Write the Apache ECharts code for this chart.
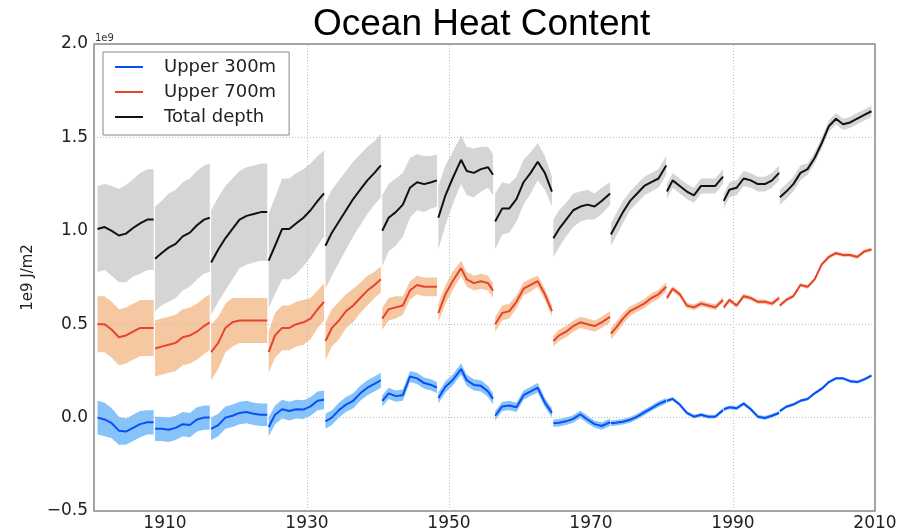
<!DOCTYPE html>
<html><head><meta charset="utf-8">
<script src="https://cdn.jsdelivr.net/npm/echarts@6/dist/echarts.min.js"></script>
<style>html,body{margin:0;padding:0;background:#fff}#c{width:907px;height:532px}</style>
</head><body><div id="c"></div>
<script>
// Sample years; each segment ends with a gap marker (value null in the series arrays)
const years = [
 1900.5,1901.5,1902.5,1903.5,1904.5,1905.5,1906.5,1907.5,1908.4, 1908.5,
 1908.6,1909.5,1910.5,1911.5,1912.5,1913.5,1914.5,1915.5,1916.3, 1916.4,
 1916.5,1917.5,1918.5,1919.5,1920.5,1921.5,1922.5,1923.5,1924.4, 1924.5,
 1924.6,1925.5,1926.5,1927.5,1928.5,1929.5,1930.5,1931.5,1932.4, 1932.5,
 1932.6,1933.5,1934.5,1935.5,1936.5,1937.5,1938.5,1939.5,1940.4, 1940.5,
 1940.6,1941.5,1942.5,1943.5,1944.5,1945.5,1946.5,1947.5,1948.3, 1948.4,
 1948.5,1949.5,1950.5,1951.7,1952.5,1953.5,1954.5,1955.5,1956.2, 1956.35,
 1956.5,1957.5,1958.5,1959.5,1960.5,1961.5,1962.5,1963.5,1964.5, 1964.6,
 1964.7,1965.5,1966.5,1967.5,1968.5,1969.5,1970.5,1971.5,1972.7, 1972.75,
 1972.8,1973.5,1974.5,1975.5,1976.5,1977.5,1978.5,1979.5,1980.6, 1980.65,
 1980.7,1981.5,1982.5,1983.5,1984.5,1985.5,1986.5,1987.5,1988.6, 1988.65,
 1988.7,1989.5,1990.5,1991.5,1992.5,1993.5,1994.5,1995.5,1996.5, 1996.55,
 1996.6,1997.5,1998.5,1999.5,2000.5,2001.5,2002.5,2003.5,2004.5,2005.5,2006.5,2007.5,2008.5,2009.5
];

// Total depth (1e9 J/m2) and its half-width uncertainty
const totalDepth = [
 1.01,1.02,1.00,0.975,0.985,1.015,1.04,1.06,1.06, null,
 0.85,0.88,0.91,0.93,0.97,0.99,1.03,1.06,1.07, null,
 0.83,0.90,0.96,1.01,1.06,1.08,1.09,1.10,1.10, null,
 0.84,0.92,1.01,1.01,1.04,1.07,1.11,1.16,1.20, null,
 0.92,0.99,1.05,1.11,1.17,1.22,1.27,1.31,1.35, null,
 1.00,1.07,1.10,1.14,1.23,1.26,1.25,1.26,1.27, null,
 1.07,1.19,1.28,1.38,1.32,1.31,1.33,1.34,1.30, null,
 1.05,1.12,1.12,1.17,1.26,1.31,1.37,1.31,1.21, null,
 0.96,1.01,1.06,1.11,1.13,1.14,1.13,1.16,1.20, null,
 0.98,1.03,1.10,1.16,1.20,1.24,1.26,1.28,1.35, null,
 1.21,1.27,1.24,1.21,1.19,1.24,1.24,1.24,1.29, null,
 1.16,1.22,1.23,1.28,1.27,1.25,1.25,1.27,1.31, null,
 1.18,1.21,1.25,1.31,1.33,1.39,1.47,1.56,1.60,1.57,1.58,1.60,1.62,1.64
];
const totalDepthErr = [
 0.23,0.23,0.24,0.25,0.26,0.26,0.27,0.27,0.27, null,
 0.28,0.28,0.29,0.29,0.29,0.29,0.29,0.29,0.29, null,
 0.28,0.28,0.28,0.27,0.26,0.26,0.26,0.26,0.26, null,
 0.25,0.26,0.27,0.27,0.27,0.26,0.25,0.24,0.23, null,
 0.23,0.23,0.22,0.21,0.20,0.19,0.18,0.17,0.17, null,
 0.19,0.18,0.18,0.17,0.16,0.15,0.15,0.14,0.14, null,
 0.17,0.16,0.14,0.13,0.13,0.13,0.12,0.11,0.11, null,
 0.15,0.14,0.13,0.12,0.12,0.11,0.10,0.09,0.08, null,
 0.10,0.10,0.09,0.09,0.08,0.08,0.07,0.07,0.06, null,
 0.06,0.06,0.06,0.05,0.05,0.05,0.05,0.05,0.05, null,
 0.04,0.04,0.04,0.04,0.04,0.04,0.04,0.04,0.04, null,
 0.04,0.04,0.04,0.04,0.04,0.04,0.04,0.04,0.04, null,
 0.04,0.04,0.04,0.04,0.03,0.03,0.03,0.03,0.03,0.03,0.03,0.03,0.03,0.03
];

// Upper 700m
const upper700 = [
 0.50,0.50,0.47,0.43,0.44,0.46,0.48,0.48,0.48, null,
 0.37,0.38,0.39,0.40,0.43,0.44,0.46,0.49,0.51, null,
 0.35,0.40,0.48,0.51,0.52,0.52,0.52,0.52,0.52, null,
 0.35,0.44,0.48,0.48,0.50,0.51,0.53,0.58,0.62, null,
 0.41,0.48,0.52,0.57,0.60,0.64,0.68,0.71,0.74, null,
 0.53,0.58,0.59,0.60,0.68,0.71,0.70,0.70,0.70, null,
 0.56,0.66,0.73,0.80,0.74,0.72,0.73,0.72,0.68, null,
 0.50,0.56,0.57,0.62,0.69,0.71,0.73,0.66,0.57, null,
 0.41,0.44,0.46,0.49,0.51,0.50,0.49,0.51,0.54, null,
 0.45,0.48,0.53,0.57,0.59,0.61,0.64,0.66,0.70, null,
 0.64,0.69,0.66,0.60,0.59,0.61,0.60,0.59,0.63, null,
 0.59,0.63,0.60,0.65,0.64,0.62,0.62,0.61,0.64, null,
 0.60,0.63,0.65,0.71,0.70,0.74,0.82,0.86,0.88,0.87,0.87,0.86,0.89,0.90
];
const upper700Err = [
 0.15,0.15,0.15,0.15,0.15,0.15,0.15,0.15,0.15, null,
 0.15,0.15,0.15,0.15,0.15,0.15,0.15,0.15,0.15, null,
 0.15,0.14,0.13,0.13,0.12,0.12,0.12,0.12,0.12, null,
 0.11,0.12,0.12,0.12,0.12,0.12,0.11,0.10,0.10, null,
 0.10,0.10,0.10,0.09,0.09,0.08,0.08,0.07,0.07, null,
 0.06,0.06,0.06,0.05,0.05,0.05,0.05,0.05,0.05, null,
 0.05,0.05,0.05,0.04,0.04,0.04,0.04,0.04,0.04, null,
 0.04,0.04,0.04,0.035,0.035,0.035,0.03,0.03,0.03, null,
 0.03,0.03,0.03,0.03,0.03,0.03,0.03,0.03,0.03, null,
 0.03,0.03,0.03,0.025,0.025,0.025,0.025,0.025,0.025, null,
 0.015,0.015,0.015,0.015,0.015,0.015,0.015,0.015,0.015, null,
 0.012,0.012,0.012,0.012,0.012,0.012,0.012,0.012,0.012, null,
 0.01,0.01,0.01,0.01,0.01,0.01,0.01,0.01,0.01,0.01,0.01,0.01,0.01,0.01
];

// Upper 300m
const upper300 = [
 0.00,-0.01,-0.03,-0.07,-0.075,-0.055,-0.035,-0.025,-0.025, null,
 -0.06,-0.06,-0.065,-0.055,-0.035,-0.04,-0.01,0.00,0.00, null,
 -0.06,-0.04,0.00,0.01,0.025,0.03,0.02,0.015,0.015, null,
 -0.05,0.015,0.045,0.035,0.045,0.043,0.06,0.09,0.095, null,
 -0.02,0.00,0.04,0.07,0.09,0.13,0.16,0.18,0.20, null,
 0.09,0.13,0.115,0.12,0.22,0.21,0.185,0.175,0.16, null,
 0.105,0.165,0.20,0.26,0.20,0.175,0.17,0.14,0.10, null,
 0.01,0.06,0.065,0.055,0.12,0.14,0.16,0.08,0.025, null,
 -0.03,-0.028,-0.02,-0.007,0.018,-0.01,-0.035,-0.045,-0.025, null,
 -0.03,-0.028,-0.022,-0.012,0.005,0.028,0.05,0.072,0.09, null,
 0.09,0.10,0.07,0.025,0.005,0.015,0.005,0.005,0.04, null,
 0.045,0.055,0.05,0.075,0.045,0.005,-0.002,0.01,0.025, null,
 0.035,0.058,0.07,0.09,0.10,0.13,0.155,0.19,0.21,0.21,0.195,0.19,0.205,0.225
];
const upper300Err = [
 0.09,0.09,0.08,0.075,0.07,0.07,0.07,0.065,0.065, null,
 0.065,0.065,0.065,0.065,0.065,0.065,0.065,0.065,0.065, null,
 0.06,0.06,0.06,0.06,0.06,0.06,0.06,0.06,0.06, null,
 0.05,0.05,0.05,0.05,0.05,0.05,0.05,0.05,0.05, null,
 0.04,0.04,0.04,0.04,0.04,0.04,0.04,0.04,0.04, null,
 0.03,0.03,0.03,0.03,0.03,0.03,0.03,0.03,0.03, null,
 0.03,0.03,0.03,0.03,0.03,0.03,0.03,0.03,0.03, null,
 0.025,0.025,0.025,0.025,0.025,0.025,0.025,0.025,0.025, null,
 0.02,0.02,0.02,0.02,0.02,0.02,0.02,0.02,0.02, null,
 0.015,0.015,0.015,0.015,0.015,0.015,0.015,0.015,0.015, null,
 0.01,0.01,0.01,0.01,0.01,0.01,0.01,0.01,0.01, null,
 0.01,0.01,0.01,0.01,0.01,0.01,0.01,0.01,0.01, null,
 0.008,0.008,0.008,0.008,0.008,0.008,0.008,0.008,0.008,0.008,0.008,0.008,0.008,0.008
];

const seriesNames = ['Upper 300m', 'Upper 700m', 'Total depth'];
const xLabelYears = [1910, 1930, 1950, 1970, 1990, 2010];
const gridYears = [1930, 1950, 1990];
const gridValues = [0, 0.5, 1.5];

function pairs(vals) {
  return years.map((x, i) => [x, vals[i] == null ? '-' : vals[i]]);
}
function segmentsOf(vals) {
  const segs = []; let start = -1;
  for (let i = 0; i <= vals.length; i++) {
    const ok = i < vals.length && vals[i] != null;
    if (ok && start < 0) start = i;
    if (!ok && start >= 0) { segs.push([start, i - 1]); start = -1; }
  }
  return segs;
}
function bandSeries(name, mid, err, color, z) {
  const segs = segmentsOf(mid);
  return {
    type: 'custom', name: name + ' band', silent: true, z: z,
    data: segs.map(s => [years[s[0]], mid[s[0]]]),
    renderItem: function (params, api) {
      const s = segs[params.dataIndex];
      const up = [], lo = [];
      for (let i = s[0]; i <= s[1]; i++) {
        up.push(api.coord([years[i], mid[i] + err[i]]));
        lo.push(api.coord([years[i], mid[i] - err[i]]));
      }
      return { type: 'polygon', shape: { points: up.concat(lo.reverse()) }, style: { fill: color } };
    }
  };
}
function lineSeries(name, mid, color) {
  return {
    type: 'line', name: name, data: pairs(mid), showSymbol: false, symbol: 'none',
    connectNulls: false, z: 5, silent: true,
    lineStyle: { color: color, width: 2 }, itemStyle: { color: color }
  };
}

const chart = echarts.init(document.getElementById('c'), null, { renderer: 'canvas' });
const font = 'DejaVu Sans';
chart.setOption({
  animation: false,
  backgroundColor: '#fff',
  title: [
    { text: 'Ocean Heat Content', left: 313, top: 6, padding: 0,
      textStyle: { fontFamily: 'Liberation Sans', fontSize: 37, fontWeight: 'normal', color: '#000' } },
    { text: '1e9', left: 95, top: 33, padding: 0,
      textStyle: { fontFamily: font, fontSize: 10, fontWeight: 'normal', color: '#333' } }
  ],
  legend: {
    data: seriesNames.map(n => ({ name: n, icon: 'rect' })),
    orient: 'vertical', left: 103, top: 52,
    itemWidth: 28, itemHeight: 2, itemGap: 5,
    padding: [5, 13, 8, 12],
    borderColor: '#888', borderWidth: 1, backgroundColor: '#fff',
    textStyle: { fontFamily: font, fontSize: 18, color: '#222', lineHeight: 20, padding: [0, 0, 0, 16] }
  },
  grid: { left: 94, right: 32, top: 44, bottom: 21, show: true, borderColor: '#888', borderWidth: 1.5, backgroundColor: 'transparent' },
  xAxis: {
    type: 'value', min: 1900, max: 2010, interval: 10,
    axisLine: { show: false }, axisTick: { show: false }, splitLine: { show: false },
    axisLabel: {
      margin: 4, fontFamily: font, fontSize: 17, color: '#222',
      formatter: v => xLabelYears.indexOf(Math.round(v)) >= 0 ? String(Math.round(v)) : ''
    }
  },
  yAxis: {
    type: 'value', min: -0.5, max: 2.0, interval: 0.5,
    name: '1e9 J/m2', nameLocation: 'middle', nameGap: 52, nameRotate: 90,
    nameTextStyle: { fontFamily: font, fontSize: 15, color: '#222' },
    axisLine: { show: false }, axisTick: { show: false }, splitLine: { show: false },
    axisLabel: {
      margin: 6, fontFamily: font, fontSize: 17, color: '#222',
      formatter: v => (v < 0 ? '\u2212' + Math.abs(v).toFixed(1) : v.toFixed(1))
    }
  },
  series: [
    {
      type: 'line', name: 'grid', data: [], silent: true, z: 1,
      markLine: {
        silent: true, symbol: 'none', label: { show: false }, animation: false,
        lineStyle: { color: '#bdbdbd', type: [1, 2], width: 1 },
        data: gridYears.map(y => ({ xAxis: y })).concat(gridValues.map(v => ({ yAxis: v })))
      }
    },
    bandSeries('Total depth', totalDepth, totalDepthErr, '#d5d5d5', 2),
    bandSeries('Upper 700m', upper700, upper700Err, '#f6c8a2', 3),
    bandSeries('Upper 300m', upper300, upper300Err, '#86c3fb', 4),
    lineSeries('Upper 300m', upper300, '#0a4ff5'),
    lineSeries('Upper 700m', upper700, '#e8432c'),
    lineSeries('Total depth', totalDepth, '#111111')
  ]
});
</script></body></html>
